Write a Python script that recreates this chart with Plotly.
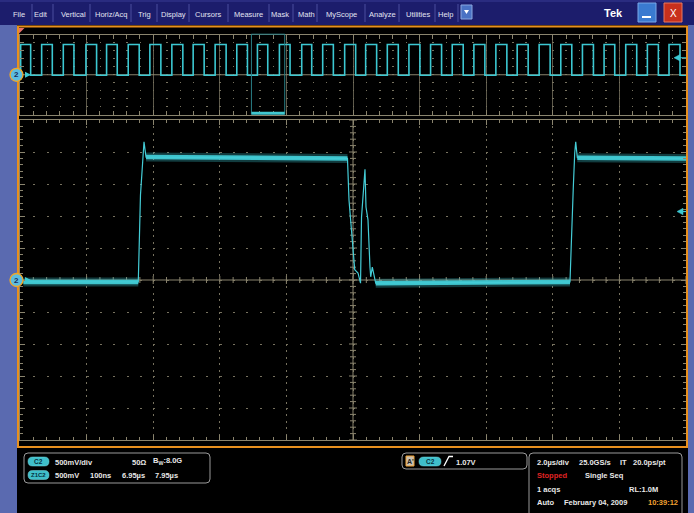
import plotly.graph_objects as go

W, H = 694, 513

# ---------------- data ----------------
# zoomed (main) window: time in ns, channel 2 voltage in V
main_t_ns = [6955, 7127.6, 7130.9, 7133.9, 7136.2, 7139.2, 7441.7, 7444.0, 7447.4,
             7450.5, 7452.6, 7457.5, 7461.3, 7462.8, 7468.0, 7469.5, 7472.5, 7475.5,
             7476.6, 7479.0, 7484.1, 7775.8, 7777.8, 7780.8, 7782.9, 7784.4, 7786.8, 7950]
main_v = [-0.03, -0.03, 1.33, 1.88, 2.16, 1.92, 1.90, 1.25, 0.83,
          0.42, 0.16, 0.11, -0.05, 0.98, 1.73, 1.14, 0.94, 0.20,
          0.05, 0.20, -0.05, -0.03, 0.67, 1.45, 1.98, 2.16, 1.91, 1.90]
# flat (noisy) portions of the main trace, as index ranges into the arrays above
main_flat_ranges = [(0, 2), (5, 7), (20, 22), (26, 28)]

# overview record (0 .. 20 us): edge times in us
ov_rise_us = [0.02, 0.65, 1.30, 1.98, 2.60, 3.25, 3.90, 4.56, 5.20, 5.86, 6.51, 7.13,
              7.79, 8.46, 9.09, 9.75, 10.38, 11.03, 11.68, 12.33, 12.98, 13.63, 14.29,
              14.93, 15.59, 16.24, 16.89, 17.54, 18.19, 18.84, 19.49]
ov_fall_us = [0.32, 0.97, 1.62, 2.30, 2.92, 3.58, 4.23, 4.89, 5.53, 6.19, 6.83, 7.44,
              8.11, 8.76, 9.41, 10.08, 10.71, 11.36, 12.01, 12.66, 13.31, 13.96, 14.62,
              15.26, 15.92, 16.57, 17.22, 17.86, 18.52, 19.17, 19.82]
ov_high_v = 1.90
ov_low_v = -0.03
ov_end_us = 20.0

zoom_start_us = 6.95
zoom_end_us = 7.95
trigger_level_v = 1.07

menu_items = ["File", "Edit", "Vertical", "Horiz/Acq", "Trig", "Display", "Cursors",
              "Measure", "Mask", "Math", "MyScope", "Analyze", "Utilities", "Help"]

# ---------------- layout helpers ----------------
def X(x):
    return x / W

def Y(y):
    return 1 - y / H

FONT = "Liberation Sans, Arial, sans-serif"
CYAN = "#3cc8d2"
GRID = "#77725f"
GRID_SOLID = "#5f5b4c"
AXL = "#8a846e"
ORANGE = "#e8901e"

menu_x = [19, 41, 73, 111, 144, 173, 208, 248, 280, 306, 341, 382, 418, 446]
menu_sep = [32, 53, 90, 131, 157, 189, 228, 269, 293, 317, 365, 399, 435, 458]

shapes = []
annots = []

def rect(x0, y0, x1, y1, fill=None, line=None, lw=0, layer="above"):
    shapes.append(dict(type="rect", xref="paper", yref="paper", x0=X(x0), x1=X(x1),
                       y0=Y(y1), y1=Y(y0), fillcolor=fill, layer=layer,
                       line=dict(color=line if line else "rgba(0,0,0,0)", width=lw)))

def rrect(x0, y0, x1, y1, r, fill=None, line=None, lw=1):
    p = (f"M {X(x0+r)},{Y(y0)} L {X(x1-r)},{Y(y0)} Q {X(x1)},{Y(y0)} {X(x1)},{Y(y0+r)} "
         f"L {X(x1)},{Y(y1-r)} Q {X(x1)},{Y(y1)} {X(x1-r)},{Y(y1)} L {X(x0+r)},{Y(y1)} "
         f"Q {X(x0)},{Y(y1)} {X(x0)},{Y(y1-r)} L {X(x0)},{Y(y0+r)} Q {X(x0)},{Y(y0)} {X(x0+r)},{Y(y0)} Z")
    shapes.append(dict(type="path", xref="paper", yref="paper", path=p,
                       fillcolor=fill if fill else "rgba(0,0,0,0)",
                       line=dict(color=line if line else "rgba(0,0,0,0)", width=lw)))

def ppath(pts, fill=None, line=None, lw=1, close=True):
    s = "M " + " L ".join(f"{X(a)},{Y(b)}" for a, b in pts) + (" Z" if close else "")
    shapes.append(dict(type="path", xref="paper", yref="paper", path=s,
                       fillcolor=fill if fill else "rgba(0,0,0,0)",
                       line=dict(color=line if line else "rgba(0,0,0,0)", width=lw)))

def text(x, y, s, size=7.5, color="#e8e8e8", anchor="left", bold=True):
    annots.append(dict(x=X(x), y=Y(y), xref="paper", yref="paper", showarrow=False,
                       text=f"<b>{s}</b>" if bold else s, xanchor=anchor, yanchor="middle",
                       font=dict(family=FONT, size=size, color=color)))

# ---------------- frame / chrome ----------------
rect(0, 0, W, 25, fill="#1c1d6c")
rect(0, 0, W, 2, fill="#2a2c80")
rect(0, 25, 17, H, fill="#5a6ab0")
rect(688, 25, W, H, fill="#5a6ab0")
shapes.append(dict(type="rect", xref="paper", yref="paper", x0=X(18), x1=X(687),
                   y0=Y(447), y1=Y(26.5), line=dict(color=ORANGE, width=2),
                   fillcolor="rgba(0,0,0,0)"))

for sx in menu_sep:
    shapes.append(dict(type="line", xref="paper", yref="paper", x0=X(sx), x1=X(sx),
                       y0=Y(4), y1=Y(22), line=dict(color="#4a4f9e", width=1)))
for name, mx in zip(menu_items, menu_x):
    text(mx, 14.5, name, size=7.5, color="#e2e4f2", anchor="center", bold=False)

# small dropdown button
rect(461, 5, 472, 19, fill="#4a72c4", line="#8aa8e0", lw=1)
ppath([(464, 10), (469, 10), (466.5, 14)], fill="#ffffff")
text(613, 13.5, "Tek", size=11, color="#ffffff", anchor="center")
rect(638, 3, 656, 22, fill="#3a7ad0", line="#7aa8e8", lw=1)
shapes.append(dict(type="line", xref="paper", yref="paper", x0=X(642), x1=X(651),
                   y0=Y(17), y1=Y(17), line=dict(color="#ffffff", width=2)))
rect(664, 3, 682, 22, fill="#c8301c", line="#e87a60", lw=1)
text(673, 13, "X", size=10, color="#ffffff", anchor="center", bold=False)

# ---------------- overview graticule extras ----------------
shapes.append(dict(type="line", xref="x2", yref="y2", x0=0, x1=20, y0=0, y1=0,
                   line=dict(color=AXL, width=1), layer="between"))
# zoom window indicator
shapes.append(dict(type="rect", xref="x2", yref="y2 domain", x0=zoom_start_us, x1=zoom_end_us,
                   y0=0, y1=1.01, line=dict(color="#2a7f86", width=1),
                   fillcolor="rgba(0,0,0,0)"))
shapes.append(dict(type="line", xref="x2", yref="y2 domain", x0=zoom_start_us, x1=zoom_end_us,
                   y0=0.02, y1=0.02, line=dict(color="#40c8d0", width=2.5)))

# ---------------- main graticule extras ----------------
shapes.append(dict(type="line", xref="x", yref="y", x0=6950, x1=7950, y0=0, y1=0,
                   line=dict(color=AXL, width=1), layer="between"))
shapes.append(dict(type="line", xref="x", yref="y", x0=7450, x1=7450, y0=-2.5, y1=2.5,
                   line=dict(color=AXL, width=1), layer="between"))
for i in range(51):
    t = 6950 + 20 * i
    h = 4 if i % 5 == 0 else 3
    shapes.append(dict(type="line", xref="x", yref="y", x0=t, x1=t, ysizemode="pixel",
                       yanchor=0, y0=-h, y1=h, line=dict(color=AXL, width=1), layer="between"))
for i in range(51):
    v = -2.5 + 0.1 * i
    h = 4 if i % 5 == 0 else 3
    shapes.append(dict(type="line", xref="x", yref="y", y0=v, y1=v, xsizemode="pixel",
                       xanchor=7450, x0=-h, x1=h, line=dict(color=AXL, width=1), layer="between"))

# ---------------- channel / trigger markers ----------------
def ground_marker(cy):
    shapes.append(dict(type="circle", xref="paper", yref="paper", x0=X(10), x1=X(23),
                       y0=Y(cy + 6.5), y1=Y(cy - 6.5), fillcolor="#5cbde0",
                       line=dict(color="#f0a828", width=1.3)))
    annots.append(dict(x=X(16.5), y=Y(cy), xref="paper", yref="paper", showarrow=False,
                       text="<b>2</b>", xanchor="center", yanchor="middle",
                       font=dict(family=FONT, size=8, color="#1a2a58")))
    ppath([(25, cy - 3), (31, cy), (25, cy + 3)], fill=CYAN)

ground_marker(280)
ground_marker(74.8)

# trigger level arrows (right side), in data units of each panel
main_px_per_v = 32 / 0.5
ov_px_per_v = 7.95 / 0.5
for yref, ppv, xs in (("y", main_px_per_v, 677), ("y2", ov_px_per_v, 674)):
    dv = 3.2 / ppv
    shapes.append(dict(type="path", xref="paper", yref=yref,
                       path=f"M {X(xs)},{trigger_level_v} L {X(xs+6)},{trigger_level_v+dv} "
                            f"L {X(xs+6)},{trigger_level_v-dv} Z",
                       fillcolor=CYAN, line=dict(color=CYAN, width=0.5)))
    shapes.append(dict(type="line", xref="paper", yref=yref, x0=X(xs + 5), x1=X(686),
                       y0=trigger_level_v, y1=trigger_level_v, line=dict(color=CYAN, width=1.2)))

# trigger position marker
ppath([(19, 28), (24.5, 28), (19, 33.5)], fill="#e8706a")

# ---------------- readouts ----------------
rrect(24, 453, 210, 483, 4, line="#9a9a9a", lw=1)
rrect(402, 453, 527, 469, 4, line="#9a9a9a", lw=1)
rrect(529, 453, 682, 520, 4, line="#9a9a9a", lw=1)

def pill(x0, x1, yc, label, size=6.5):
    rrect(x0, yc - 4.5, x1, yc + 4.5, 4.5, fill="#3fbfca", line="#7ad8e0", lw=0.5)
    annots.append(dict(x=X((x0 + x1) / 2), y=Y(yc), xref="paper", yref="paper",
                       showarrow=False, text=f"<b>{label}</b>", xanchor="center",
                       yanchor="middle",
                       font=dict(family=FONT, size=size, color="#06303f")))

pill(28, 49, 461.5, "C2")
text(53, 462, "500mV/div")
text(130, 462, "50Ω")
text(151, 461, "B<sub>W</sub>:8.0G")
pill(28, 49, 475, "Z1C2", size=6)
text(53, 475.5, "500mV")
text(88, 475.5, "100ns")
text(120, 475.5, "6.95µs")
text(153, 475.5, "7.95µs")

rect(406, 456, 414, 466, fill="#c8c0b0", line="#f0a030", lw=1)
annots.append(dict(x=X(410), y=Y(461), xref="paper", yref="paper", showarrow=False,
                   text="<b>A'</b>", xanchor="center", yanchor="middle",
                   font=dict(family=FONT, size=7, color="#202020")))
pill(419, 441, 461.5, "C2")
ppath([(444, 466), (449, 456.5), (453, 456.5)], line="#ffffff", lw=1.3, close=False)
text(454, 462, "1.07V")

text(535, 462, "2.0µs/div")
text(577, 462, "25.0GS/s")
text(618, 462, "IT")
text(631, 462, "20.0ps/pt")
text(535, 475.5, "Stopped", color="#e02424")
text(583, 475.5, "Single Seq")
text(535, 489, "1 acqs")
text(627, 489, "RL:1.0M")
text(535, 502.5, "Auto")
text(562, 502.5, "February 04, 2009")
text(646, 502.5, "10:39:12", color="#f0a030")

# ---------------- traces ----------------
ov_x, ov_y = [], []
for r, f in zip(ov_rise_us, ov_fall_us):
    ov_x += [r, r, f, f]
    ov_y += [ov_low_v, ov_high_v, ov_high_v, ov_low_v]
ov_x.append(ov_end_us)
ov_y.append(ov_low_v)

fig = go.Figure()
fig.add_trace(go.Scatter(x=ov_x, y=ov_y, mode="lines", xaxis="x2", yaxis="y2",
                         line=dict(color=CYAN, width=1.6), hoverinfo="skip"))
for a, b in main_flat_ranges:
    fig.add_trace(go.Scatter(x=main_t_ns[a:b], y=main_v[a:b], mode="lines",
                             line=dict(color="rgba(60,200,210,0.30)", width=9),
                             hoverinfo="skip"))
    fig.add_trace(go.Scatter(x=main_t_ns[a:b], y=main_v[a:b], mode="lines",
                             line=dict(color="#3ec4cd", width=4.5), hoverinfo="skip"))
fig.add_trace(go.Scatter(x=main_t_ns, y=main_v, mode="lines",
                         line=dict(color="#44ccd6", width=1.2), hoverinfo="skip"))

common_x_dom = [X(20), X(686)]
fig.update_layout(
    width=W, height=H, margin=dict(l=0, r=0, t=0, b=0),
    paper_bgcolor="#000000", plot_bgcolor="rgba(0,0,0,0)", showlegend=False,
    xaxis=dict(domain=common_x_dom, range=[6950, 7950], anchor="y",
               tick0=6950, dtick=100, showgrid=True, gridcolor=GRID, griddash="2px,4.4px",
               gridwidth=1, ticks="inside", ticklen=5, tickcolor=AXL, tickwidth=1,
               minor=dict(tick0=6950, dtick=20, ticks="inside", ticklen=3, tickcolor=AXL,
                          showgrid=False),
               showline=True, linecolor=AXL, linewidth=1, mirror="ticks",
               showticklabels=False, zeroline=False, fixedrange=True),
    yaxis=dict(domain=[Y(440), Y(120)], range=[-2.5, 2.5], anchor="x",
               tick0=-2.5, dtick=0.5, showgrid=True, gridcolor=GRID, griddash="2px,11.32px",
               gridwidth=1, ticks="inside", ticklen=5, tickcolor=AXL, tickwidth=1,
               minor=dict(tick0=-2.5, dtick=0.1, ticks="inside", ticklen=3, tickcolor=AXL,
                          showgrid=False),
               showline=True, linecolor=AXL, linewidth=1, mirror="ticks",
               showticklabels=False, zeroline=False, fixedrange=True),
    xaxis2=dict(domain=common_x_dom, range=[0, 20], anchor="y2",
                tick0=0, dtick=2, showgrid=True, gridcolor=GRID_SOLID, gridwidth=1,
                ticks="inside", ticklen=5, tickcolor=AXL, tickwidth=1,
                minor=dict(tick0=0, dtick=0.4, ticks="inside", ticklen=4, tickcolor=AXL,
                           showgrid=False),
                showline=True, linecolor=AXL, linewidth=1, mirror="ticks",
                showticklabels=False, zeroline=False, fixedrange=True),
    yaxis2=dict(domain=[Y(114.5), Y(35)], range=[-2.5, 2.5], anchor="x2",
                tick0=-2.5, dtick=0.5, showgrid=True, gridcolor=GRID, griddash="1.5px,11.8px",
                gridwidth=1, ticks="inside", ticklen=4, tickcolor=AXL, tickwidth=1,
                showline=True, linecolor=AXL, linewidth=1, mirror="ticks",
                showticklabels=False, zeroline=False, fixedrange=True),
    shapes=shapes, annotations=annots,
)

fig.write_html("out.html", config={"displayModeBar": False, "staticPlot": True})

# remove the default page margin so the 694x513 figure fills the window exactly
with open("out.html", "r", encoding="utf-8") as fh:
    html = fh.read()
html = html.replace("<head>", "<head><style>html,body{margin:0;padding:0;overflow:hidden;background:#000;}</style>", 1)
with open("out.html", "w", encoding="utf-8") as fh:
    fh.write(html)
